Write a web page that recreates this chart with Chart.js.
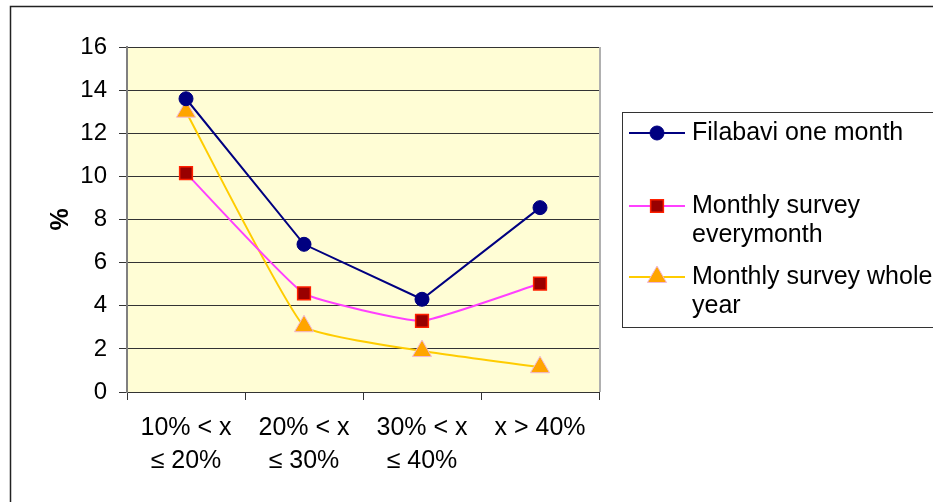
<!DOCTYPE html>
<html>
<head>
<meta charset="utf-8">
<script src="https://cdn.jsdelivr.net/npm/chart.js@4.4.0/dist/chart.umd.min.js"></script>
<style>
  html, body { margin: 0; padding: 0; background: #fff; }
  #wrap { position: relative; width: 933px; height: 502px; overflow: hidden; }
  canvas { display: block; }
</style>
</head>
<body>
<div id="wrap"><canvas id="c" width="933" height="502"></canvas></div>
<script>
// ---- data ----
const categories = [['10% < x', '≤ 20%'], ['20% < x', '≤ 30%'], ['30% < x', '≤ 40%'], ['x > 40%']];
const seriesNames = ['Filabavi one month', 'Monthly survey everymonth', 'Monthly survey whole year'];
const legendLines = [['Filabavi one month'], ['Monthly survey', 'everymonth'], ['Monthly survey whole', 'year']];
const filabaviOneMonth = [13.6, 6.85, 4.3, 8.55];
const monthlyEveryMonth = [10.15, 4.57, 3.3, 5.03];
const monthlyWholeYear = [13.0, 3.05, 1.9, 1.15];
const yTicks = [0, 2, 4, 6, 8, 10, 12, 14, 16];
const yAxisTitle = '%';

const FONT = "'Liberation Sans', Arial, sans-serif";

const framePlugin = {
  id: 'frame',
  beforeDraw(chart) {
    const ctx = chart.ctx, a = chart.chartArea;
    ctx.save();
    ctx.fillStyle = '#ffffff';
    ctx.fillRect(0, 0, chart.width, chart.height);
    ctx.strokeStyle = '#222';
    ctx.lineWidth = 1.5;
    ctx.strokeRect(10.5, 6.5, 960, 520);
    ctx.fillStyle = '#FFFDD5';
    ctx.fillRect(a.left, a.top, a.right - a.left, a.bottom - a.top);
    ctx.strokeStyle = '#b0b0b0';
    ctx.lineWidth = 2;
    ctx.beginPath();
    ctx.moveTo(a.right + 1, a.top);
    ctx.lineTo(a.right + 1, a.bottom);
    ctx.stroke();
    ctx.restore();
  }
};

const legendPlugin = {
  id: 'boxLegend',
  afterDraw(chart) {
    const ctx = chart.ctx;
    ctx.save();
    const bx = 622, by = 112, bw = 340, bh = 215;
    ctx.strokeStyle = '#333';
    ctx.lineWidth = 1;
    ctx.strokeRect(bx + 0.5, by + 0.5, bw, bh);
    const rowY = [133, 206, 277];
    const lineGap = 29;
    ctx.font = '25px ' + FONT;
    ctx.textBaseline = 'middle';
    ctx.textAlign = 'left';
    chart.data.datasets.forEach((ds, i) => {
      const y = rowY[i];
      ctx.strokeStyle = ds.borderColor;
      ctx.lineWidth = ds.borderWidth;
      ctx.beginPath();
      ctx.moveTo(629, y);
      ctx.lineTo(685, y);
      ctx.stroke();
      ctx.fillStyle = ds.pointBackgroundColor;
      ctx.strokeStyle = ds.pointBorderColor;
      ctx.lineWidth = ds.pointBorderWidth;
      Chart.helpers.drawPoint(ctx, {
        pointStyle: ds.pointStyle,
        radius: ds.pointRadius,
        rotation: 0,
        borderWidth: ds.pointBorderWidth
      }, 657, y);
      ctx.fillStyle = '#000';
      legendLines[i].forEach((t, k) => ctx.fillText(t, 692, y + k * lineGap));
    });
    ctx.restore();
  }
};

new Chart(document.getElementById('c'), {
  type: 'line',
  data: {
    labels: categories,
    datasets: [
      {
        label: seriesNames[0],
        data: filabaviOneMonth,
        borderColor: '#000080',
        borderWidth: 2,
        pointStyle: 'circle',
        pointRadius: 7,
        pointBackgroundColor: '#000080',
        pointBorderColor: '#000080',
        pointBorderWidth: 1,
        tension: 0
      },
      {
        label: seriesNames[1],
        data: monthlyEveryMonth,
        borderColor: '#FF40FF',
        borderWidth: 2,
        pointStyle: 'rect',
        pointRadius: 9,
        pointBackgroundColor: '#990000',
        pointBorderColor: '#FF2000',
        pointBorderWidth: 1.5,
        tension: 0.12
      },
      {
        label: seriesNames[2],
        data: monthlyWholeYear,
        borderColor: '#FFCC00',
        borderWidth: 2,
        pointStyle: 'triangle',
        pointRadius: 11,
        pointBackgroundColor: '#FFA500',
        pointBorderColor: '#F0B8D8',
        pointBorderWidth: 1,
        tension: 0.12
      }
    ]
  },
  options: {
    responsive: false,
    animation: false,
    events: [],
    layout: { padding: { left: 0, top: 47, right: 334, bottom: 0 } },
    plugins: { legend: { display: false }, tooltip: { enabled: false }, title: { display: false } },
    scales: {
      x: {
        type: 'category',
        offset: true,
        grid: { offset: true, drawOnChartArea: false, drawTicks: true, tickLength: 8, color: '#333', lineWidth: 1 },
        border: { display: true, color: '#333', width: 1 },
        ticks: { color: '#000', padding: 12, maxRotation: 0, autoSkip: false, font: { family: FONT, size: 25, lineHeight: 1.32 } },
        afterFit(s) { s.height = 110; }
      },
      y: {
        min: 0,
        max: 16,
        afterBuildTicks(s) { s.ticks = yTicks.map(v => ({ value: v })); },
        grid: { color: '#333', lineWidth: 1, tickLength: 8, drawTicks: true },
        border: { display: true, color: '#808080', width: 2 },
        ticks: { color: '#000', padding: 12, font: { family: FONT, size: 24 } },
        title: { display: true, text: yAxisTitle, color: '#000', font: { family: FONT, size: 25, weight: 'bold' }, padding: { top: 46, bottom: 0 } },
        afterFit(s) { s.width = 127; }
      }
    }
  },
  plugins: [framePlugin, legendPlugin]
});
</script>
</body>
</html>
